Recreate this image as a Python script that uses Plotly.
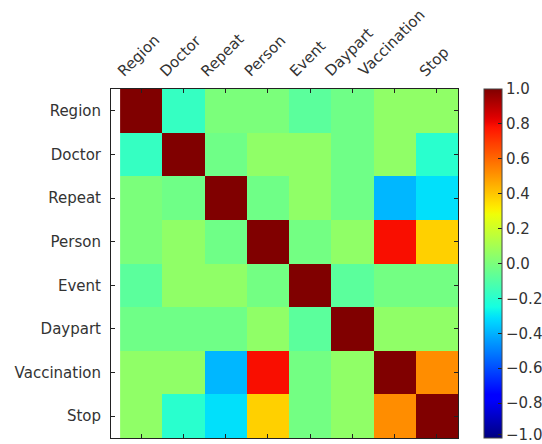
import numpy as np
import plotly.graph_objects as go

# Variable names (row/column order of the correlation matrix)
labels = ["Region", "Doctor", "Repeat", "Person", "Event", "Daypart", "Vaccination", "Stop"]

# Pairwise correlation coefficients
corr_region = [1.00, -0.17, 0.00, 0.00, -0.08, -0.03, 0.05, 0.05]
corr_doctor = [-0.17, 1.00, -0.03, 0.05, 0.05, -0.03, 0.05, -0.20]
corr_repeat = [0.00, -0.03, 1.00, -0.03, 0.05, -0.03, -0.39, -0.31]
corr_person = [0.00, 0.05, -0.03, 1.00, -0.02, 0.05, 0.79, 0.38]
corr_event = [-0.08, 0.05, 0.05, -0.02, 1.00, -0.08, -0.02, -0.02]
corr_daypart = [-0.03, -0.03, -0.03, 0.05, -0.08, 1.00, 0.05, 0.05]
corr_vaccination = [0.05, 0.05, -0.39, 0.79, -0.02, 0.05, 1.00, 0.52]
corr_stop = [0.05, -0.20, -0.31, 0.38, -0.02, 0.05, 0.52, 1.00]

colorbar_ticks = [1.0, 0.8, 0.6, 0.4, 0.2, 0.0, -0.2, -0.4, -0.6, -0.8, -1.0]

z = [corr_region, corr_doctor, corr_repeat, corr_person,
     corr_event, corr_daypart, corr_vaccination, corr_stop]

# Classic "jet" colormap, built from its piecewise-linear channel definitions
_jet = {
    "r": [(0.0, 0.0), (0.35, 0.0), (0.66, 1.0), (0.89, 1.0), (1.0, 0.5)],
    "g": [(0.0, 0.0), (0.125, 0.0), (0.375, 1.0), (0.64, 1.0), (0.91, 0.0), (1.0, 0.0)],
    "b": [(0.0, 0.5), (0.11, 1.0), (0.34, 1.0), (0.65, 0.0), (1.0, 0.0)],
}


def _channel(pts, x):
    xs = [p[0] for p in pts]
    ys = [p[1] for p in pts]
    return float(np.interp(x, xs, ys))


jet_scale = []
for s in np.linspace(0, 1, 65):
    r = round(255 * _channel(_jet["r"], s))
    g = round(255 * _channel(_jet["g"], s))
    b = round(255 * _channel(_jet["b"], s))
    jet_scale.append([float(s), f"rgb({r},{g},{b})"])


def fmt(v):
    t = f"{abs(v):.1f}"
    return ("\u2212" + t) if v < 0 else t


# nudge the end ticks inside the range so both end labels stay on the page
cb_tickvals = [max(min(v, 0.9995), -0.98) for v in colorbar_ticks]

font = dict(family="DejaVu Sans", size=15, color="#333333")

fig = go.Figure(
    go.Heatmap(
        z=z,
        x=labels,
        y=labels,
        zmin=-1,
        zmax=1,
        colorscale=jet_scale,
        xgap=0,
        ygap=0,
        colorbar=dict(
            x=1.075,
            xanchor="left",
            xpad=0,
            y=0.5,
            yanchor="middle",
            ypad=0,
            len=1,
            lenmode="fraction",
            thickness=18,
            outlinewidth=1,
            outlinecolor="#444444",
            tickvals=cb_tickvals,
            ticktext=[fmt(v) for v in colorbar_ticks],
            ticks="inside",
            ticklen=4,
            tickcolor="#222222",
            tickfont=font,
            ticklabeloverflow="allow",
        ),
    )
)

axis_common = dict(
    showline=True,
    linecolor="#222222",
    linewidth=1,
    mirror="allticks",
    ticks="inside",
    ticklen=4,
    tickcolor="#222222",
    showgrid=False,
    zeroline=False,
    automargin=False,
    tickfont=font,
)

# Column names above the matrix, rotated and centred over each column
for name in labels:
    fig.add_annotation(
        x=name,
        xref="x",
        y=1,
        yref="paper",
        text=name,
        textangle=-45,
        showarrow=False,
        xanchor="center",
        yanchor="bottom",
        xshift=-3,
        yshift=6,
        font=font,
    )

fig.update_layout(
    width=542,
    height=444,
    margin=dict(l=111, r=84, t=89, b=6, autoexpand=False),
    paper_bgcolor="white",
    plot_bgcolor="white",
    xaxis=dict(side="top", showticklabels=False, **axis_common),
    yaxis=dict(autorange="reversed", ticklabelstandoff=6, **axis_common),
)

fig.write_html("out.html")
